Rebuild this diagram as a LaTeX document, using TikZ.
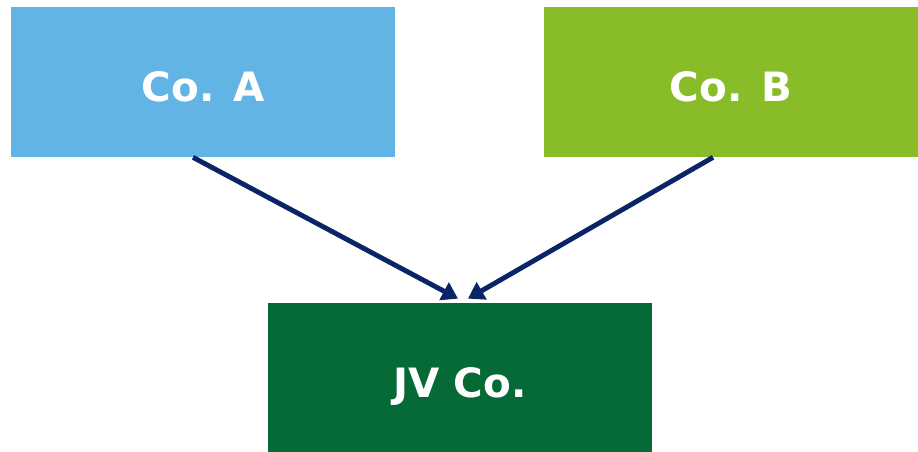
\documentclass[tikz,border=0pt]{standalone}
\usepackage{fontspec}
\setmainfont{DejaVu Sans}
\usepackage{xcolor}
\usepackage{tikz}
\usetikzlibrary{arrows.meta,positioning}

\definecolor{coblue}{HTML}{62B4E4}
\definecolor{cogreen}{HTML}{88BC28}
\definecolor{jvgreen}{HTML}{066A37}
\definecolor{navy}{HTML}{0A2468}

\begin{document}
\begin{tikzpicture}[x=0.02cm,y=-0.02cm,
  co/.style={rectangle,minimum width=7.68cm,minimum height=3cm,inner sep=0pt,
    text height=0.8cm,text depth=0pt,
    text=white,font=\bfseries\fontsize{23}{26}\selectfont},
  own/.style={draw=navy,line width=2.8pt,-{Triangle[length=9pt,width=11pt]}}]
\useasboundingbox (0,0) rectangle (918,452);
\node[co,fill=coblue] (A) at (203,82) {Co. A};
\node[co,fill=cogreen,minimum width=7.48cm] (B) at (731,82) {Co. B};
\node[co,fill=jvgreen] (J) at (460,378) {JV Co.};

\draw[own] ([xshift=-0.2cm]A.south) -- ([xshift=-0.04cm,yshift=0.08cm]J.north);
\draw[own] ([xshift=-0.36cm]B.south) -- ([xshift=0.16cm,yshift=0.08cm]J.north);

\end{tikzpicture}
\end{document}
